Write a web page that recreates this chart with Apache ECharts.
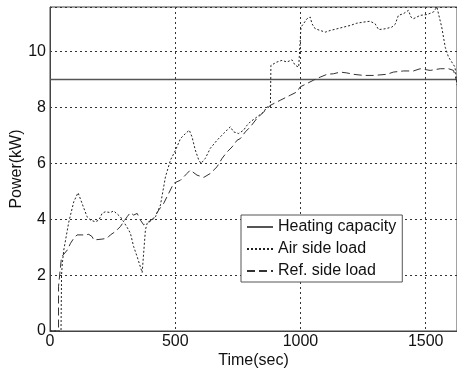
<!DOCTYPE html>
<html>
<head>
<meta charset="utf-8">
<script src="https://cdn.jsdelivr.net/npm/echarts@6/dist/echarts.min.js"></script>
<style>html,body{margin:0;padding:0;background:#fff}#c{width:457px;height:369px}</style>
</head>
<body>
<div id="c"></div>
<script>
const seriesNames = ['Heating capacity', 'Air side load', 'Ref. side load'];
const xTicks = [0, 500, 1000, 1500];
const yTicks = [0, 2, 4, 6, 8, 10];

const heatT = [0, 1625];
const heatV = [9, 9];

const airT = [0, 44, 46, 49, 55, 75, 95, 112, 128, 148, 162, 181, 195, 208, 221, 241, 254, 268, 281, 294, 308, 321, 334, 348, 368, 381, 388, 408, 421, 441, 461, 481, 501, 521, 541, 556, 567, 580, 594, 603, 620, 640, 667, 693, 720, 733, 753, 773, 787, 800, 826, 853, 866, 880, 882, 906, 926, 946, 966, 979, 993, 999, 1002, 1012, 1026, 1039, 1046, 1059, 1079, 1099, 1119, 1146, 1172, 1199, 1225, 1252, 1278, 1298, 1312, 1338, 1365, 1378, 1391, 1411, 1431, 1441, 1451, 1478, 1505, 1531, 1545, 1551, 1564, 1578, 1591, 1604, 1617, 1625];
const airV = [0, 0, 2.0, 2.4, 2.9, 3.9, 4.63, 4.95, 4.57, 4.09, 3.97, 3.91, 3.97, 4.21, 4.27, 4.24, 4.3, 4.19, 4.09, 3.91, 3.71, 3.5, 3.02, 2.66, 2.09, 3.62, 3.86, 3.97, 4.09, 4.51, 5.52, 6.12, 6.47, 6.89, 7.07, 7.19, 6.95, 6.48, 6.12, 6.0, 6.18, 6.54, 6.83, 7.07, 7.31, 7.13, 7.07, 7.19, 7.37, 7.49, 7.66, 7.84, 8.02, 8.02, 9.51, 9.63, 9.69, 9.63, 9.71, 9.51, 9.45, 9.45, 10.88, 11.0, 11.18, 11.24, 11.0, 10.82, 10.76, 10.7, 10.76, 10.82, 10.88, 10.94, 11.02, 11.06, 11.09, 11.0, 10.79, 10.82, 10.88, 10.98, 11.3, 11.36, 11.48, 11.24, 11.18, 11.3, 11.33, 11.42, 11.6, 11.36, 10.88, 10.16, 9.81, 9.63, 9.45, 8.8];

const refT = [0, 34, 34, 40, 46, 49, 69, 82, 95, 108, 135, 155, 168, 175, 208, 228, 241, 261, 281, 294, 308, 321, 334, 348, 361, 374, 394, 414, 434, 454, 474, 494, 521, 547, 560, 587, 614, 640, 667, 687, 707, 727, 747, 760, 780, 800, 826, 853, 880, 919, 959, 986, 999, 1026, 1052, 1079, 1106, 1132, 1159, 1185, 1212, 1252, 1292, 1345, 1371, 1411, 1451, 1478, 1518, 1558, 1591, 1611, 1625];
const refV = [0, 0, 1.6, 1.6, 2.65, 2.72, 2.9, 3.14, 3.32, 3.44, 3.44, 3.46, 3.38, 3.26, 3.29, 3.32, 3.44, 3.56, 3.74, 3.91, 4.09, 4.24, 4.15, 4.21, 3.97, 3.8, 3.91, 4.04, 4.33, 4.57, 4.93, 5.29, 5.4, 5.64, 5.76, 5.58, 5.5, 5.64, 5.88, 6.18, 6.41, 6.59, 6.83, 6.89, 7.13, 7.31, 7.61, 7.84, 8.08, 8.26, 8.44, 8.56, 8.74, 8.86, 8.98, 9.09, 9.19, 9.21, 9.27, 9.24, 9.19, 9.15, 9.15, 9.19, 9.27, 9.31, 9.31, 9.39, 9.33, 9.39, 9.39, 9.33, 8.9];

const zip = (a, b) => a.map((t, i) => [t, b[i]]);
const FONT = 'Liberation Sans, Arial, Helvetica, sans-serif';

const chart = echarts.init(document.getElementById('c'), null, {renderer: 'canvas'});
chart.setOption({
  animation: false,
  backgroundColor: '#fff',
  grid: {left: 50, right: 0, top: 7, bottom: 38, show: true, borderColor: '#444', borderWidth: 1,
    containLabel: false, outerBoundsMode: 'none'},
  xAxis: {
    type: 'value', min: 0, max: 1625, interval: 500,
    name: 'Time(sec)', nameLocation: 'middle', nameGap: 22, nameMoveOverlap: false,
    nameTextStyle: {fontFamily: FONT, fontSize: 16, color: '#111'},
    axisLine: {show: true, lineStyle: {color: '#444', width: 1}},
    axisTick: {show: false},
    axisLabel: {fontFamily: FONT, fontSize: 16, color: '#111', margin: 3, showMaxLabel: false,
      formatter: v => xTicks.includes(v) ? String(v) : ''},
    splitLine: {show: true, lineStyle: {color: '#333', type: [2, 3], width: 1}}
  },
  yAxis: {
    type: 'value', min: 0, max: 11.6, interval: 2,
    name: 'Power(kW)', nameLocation: 'middle', nameGap: 25, nameMoveOverlap: false,
    nameTextStyle: {fontFamily: FONT, fontSize: 16, color: '#111'},
    axisLine: {show: true, lineStyle: {color: '#444', width: 1}},
    axisTick: {show: false},
    axisLabel: {fontFamily: FONT, fontSize: 16, color: '#111', margin: 4, showMaxLabel: false,
      formatter: v => yTicks.includes(v) ? String(v) : ''},
    splitLine: {show: true, lineStyle: {color: '#333', type: [2, 3], width: 1}}
  },
  legend: {
    orient: 'vertical', left: 241, top: 215,
    padding: [4, 6, 3, 5], itemGap: 6, itemWidth: 26, itemHeight: 14,
    backgroundColor: '#fff', borderColor: '#555', borderWidth: 1, borderRadius: 0,
    itemStyle: {color: 'transparent', borderWidth: 0, opacity: 0},
    textStyle: {fontFamily: FONT, fontSize: 16, color: '#111', lineHeight: 16},
    data: seriesNames
  },
  series: [
    {name: seriesNames[0], type: 'line', data: zip(heatT, heatV), symbol: 'none', silent: true,
      lineStyle: {color: '#555', width: 1.5, type: 'solid'}, itemStyle: {color: '#555'}},
    {name: seriesNames[1], type: 'line', data: zip(airT, airV), symbol: 'none', silent: true,
      lineStyle: {color: '#222', width: 1, type: [2, 2]}, itemStyle: {color: '#222'}},
    {name: seriesNames[2], type: 'line', data: zip(refT, refV), symbol: 'none', silent: true,
      lineStyle: {color: '#333', width: 1, type: [8, 4]}, itemStyle: {color: '#333'}}
  ]
});
</script>
</body>
</html>
